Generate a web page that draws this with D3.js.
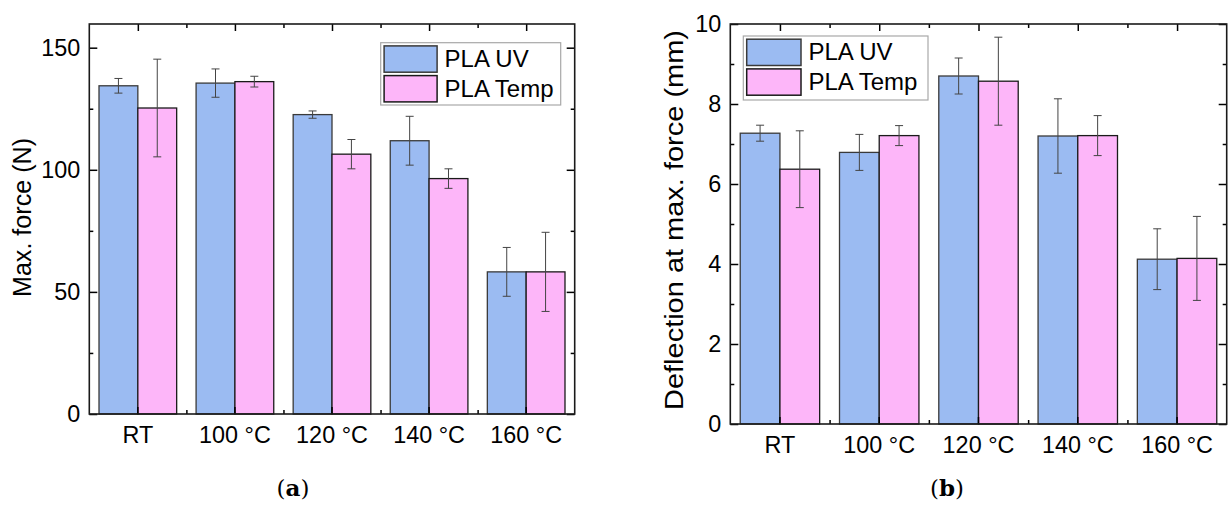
<!DOCTYPE html>
<html><head><meta charset="utf-8">
<script src="https://cdn.jsdelivr.net/npm/d3@7"></script>
<style>
html,body{margin:0;padding:0;background:#fff;}
svg{display:block;}
text{font-family:"Liberation Sans",Arial,sans-serif;fill:#000;}
</style></head>
<body>
<svg id="chart" width="1228" height="505"></svg>
<script>
// ---- data ----
const categories = ["RT", "100 °C", "120 °C", "140 °C", "160 °C"];
const seriesNames = ["PLA UV", "PLA Temp"];
const forceUV = [134.4, 135.5, 122.6, 111.9, 58.2];
const forceUVErr = [3.0, 5.8, 1.5, 10.0, 10.0];
const forceTemp = [125.3, 136.1, 106.4, 96.4, 58.2];
const forceTempErr = [20.0, 2.2, 6.0, 4.0, 16.2];
const deflUV = [7.27, 6.79, 8.70, 7.20, 4.12];
const deflUVErr = [0.20, 0.45, 0.45, 0.93, 0.76];
const deflTemp = [6.37, 7.21, 8.57, 7.21, 4.14];
const deflTempErr = [0.96, 0.25, 1.10, 0.50, 1.05];
const forceTicks = [0, 50, 100, 150];
const forceMinorTicks = [25, 75, 125];
const deflTicks = [0, 2, 4, 6, 8, 10];
const deflMinorTicks = [1, 3, 5, 7, 9];
const forceLabel = "Max. force (N)";
const deflLabel = "Deflection at max. force (mm)";
const captions = ["a", "b"];

// ---- styles ----
const colors = ["#9bbbf2", "#fdb6f9"];
const barStrokes = ["#3a3a3a", "#1a1a1a"];
const FONT = 23.4;
const LEGFONT = 24;
const LABFONT = 25;

const svg = d3.select("#chart");

function drawChart(cfg) {
  const {x0, x1, y0, y1, yMax, uv, uvErr, temp, tempErr, ticks, minor, label, labelX, labelY, labelLen, legend, caption, capX} = cfg;
  const g = svg.append("g");
  const x = d3.scaleBand().domain(categories).range([x0, x1]).paddingInner(0.2).paddingOuter(0.1);
  const xs = d3.scaleBand().domain(seriesNames).range([0, x.bandwidth()]).padding(0);
  const y = d3.scaleLinear().domain([0, yMax]).range([y0, y1]);
  const series = [
    {name: seriesNames[0], vals: uv, errs: uvErr},
    {name: seriesNames[1], vals: temp, errs: tempErr}
  ];
  // bars
  series.forEach((s, si) => {
    g.append("g").selectAll("rect").data(categories).join("rect")
      .attr("x", c => x(c) + xs(s.name))
      .attr("y", (c, i) => y(s.vals[i]))
      .attr("width", xs.bandwidth())
      .attr("height", (c, i) => y(0) - y(s.vals[i]))
      .attr("fill", colors[si]).attr("stroke", barStrokes[si]).attr("stroke-width", 1.3);
  });
  // error bars
  series.forEach((s, si) => {
    const eg = g.append("g").attr("stroke", "#444").attr("stroke-width", 1).attr("fill", "none");
    categories.forEach((c, i) => {
      const cx = x(c) + xs(s.name) + xs.bandwidth() / 2;
      const top = y(s.vals[i] + s.errs[i]), bot = y(s.vals[i] - s.errs[i]);
      eg.append("line").attr("x1", cx).attr("x2", cx).attr("y1", top).attr("y2", bot);
      eg.append("line").attr("x1", cx - 4).attr("x2", cx + 4).attr("y1", top).attr("y2", top);
      eg.append("line").attr("x1", cx - 4).attr("x2", cx + 4).attr("y1", bot).attr("y2", bot);
    });
  });
  // axes
  const step = x.step();
  const centers = categories.map(c => x(c) + x.bandwidth() / 2);
  const bounds = categories.slice(1).map(c => x(c) - step * x.paddingInner() / 2);
  const xl = d3.scaleLinear().domain([x0, x1]).range([x0, x1]);
  function styleAxis(sel) {
    sel.selectAll(".domain").remove();
    sel.selectAll("line").attr("stroke", "#000").attr("stroke-width", 1.5);
    sel.selectAll("text").style("font-size", FONT + "px").style("font-family", '"Liberation Sans",Arial,sans-serif').attr("fill", "#000");
  }
  // bottom
  g.append("g").attr("transform", `translate(0,${y0})`)
    .call(d3.axisBottom(x).tickSizeInner(-7).tickSizeOuter(0).tickPadding(12)).call(styleAxis);
  g.append("g").attr("transform", `translate(0,${y0})`)
    .call(d3.axisBottom(xl).tickValues(bounds).tickSize(-4).tickFormat("")).call(styleAxis);
  // top
  g.append("g").attr("transform", `translate(0,${y1})`)
    .call(d3.axisTop(xl).tickValues(centers).tickSize(-7).tickFormat("")).call(styleAxis);
  g.append("g").attr("transform", `translate(0,${y1})`)
    .call(d3.axisTop(xl).tickValues(bounds).tickSize(-4).tickFormat("")).call(styleAxis);
  // left
  g.append("g").attr("transform", `translate(${x0},0)`)
    .call(d3.axisLeft(y).tickValues(ticks).tickSizeInner(-8).tickSizeOuter(0).tickPadding(9).tickFormat(d3.format("d"))).call(styleAxis);
  g.append("g").attr("transform", `translate(${x0},0)`)
    .call(d3.axisLeft(y).tickValues(minor).tickSize(-4).tickFormat("")).call(styleAxis);
  // right
  g.append("g").attr("transform", `translate(${x1},0)`)
    .call(d3.axisRight(y).tickValues(ticks).tickSize(-8).tickFormat("")).call(styleAxis);
  g.append("g").attr("transform", `translate(${x1},0)`)
    .call(d3.axisRight(y).tickValues(minor).tickSize(-4).tickFormat("")).call(styleAxis);
  // frame
  g.append("rect").attr("x", x0).attr("y", y1).attr("width", x1 - x0).attr("height", y0 - y1)
    .attr("fill", "none").attr("stroke", "#1a1a1a").attr("stroke-width", 1.6);
  // y label
  const yl = g.append("text").attr("transform", `translate(${labelX},${labelY}) rotate(-90)`)
    .attr("text-anchor", "middle").attr("dy", "0.35em").style("font-size", LABFONT + "px").text(label);
  if (labelLen) yl.attr("textLength", labelLen).attr("lengthAdjust", "spacingAndGlyphs");
  // legend
  const L = legend;
  const lg = g.append("g");
  lg.append("rect").attr("x", L.x).attr("y", L.y).attr("width", L.w).attr("height", L.h)
    .attr("fill", "#fff").attr("stroke", "#a8a8a8").attr("stroke-width", 1.2);
  seriesNames.forEach((n, i) => {
    const sy = L.y + 3.2 + i * 29.7;
    lg.append("rect").attr("x", L.x + 3.4).attr("y", sy).attr("width", L.sw).attr("height", 26.3)
      .attr("fill", colors[i]).attr("stroke", barStrokes[i]).attr("stroke-width", 1.5);
    lg.append("text").attr("x", L.x + 3.4 + L.sw + 7.5).attr("y", sy + 21)
      .style("font-size", LEGFONT + "px").text(n);
  });
  // caption
  const ct = g.append("text").attr("x", capX).attr("y", 496).attr("text-anchor", "middle")
    .style("font-family", '"DejaVu Serif","Liberation Serif",serif').style("font-size", "23px");
  ct.append("tspan").text("(");
  ct.append("tspan").attr("font-weight", "bold").text(caption);
  ct.append("tspan").text(")");
}

drawChart({x0: 89.3, x1: 574.7, y0: 414, y1: 24, yMax: 159.7,
  uv: forceUV, uvErr: forceUVErr, temp: forceTemp, tempErr: forceTempErr,
  ticks: forceTicks, minor: forceMinorTicks, label: forceLabel, labelX: 22.5, labelY: 217.5, labelLen: 159,
  legend: {x: 380.7, y: 42.7, w: 180, h: 62.3, sw: 53},
  caption: captions[0], capX: 293});

drawChart({x0: 730.3, x1: 1226.7, y0: 424, y1: 24, yMax: 10,
  uv: deflUV, uvErr: deflUVErr, temp: deflTemp, tempErr: deflTempErr,
  ticks: deflTicks, minor: deflMinorTicks, label: deflLabel, labelX: 674, labelY: 220, labelLen: 380,
  legend: {x: 743.3, y: 36, w: 184.7, h: 64, sw: 54.3},
  caption: captions[1], capX: 947});
</script>
</body></html>
